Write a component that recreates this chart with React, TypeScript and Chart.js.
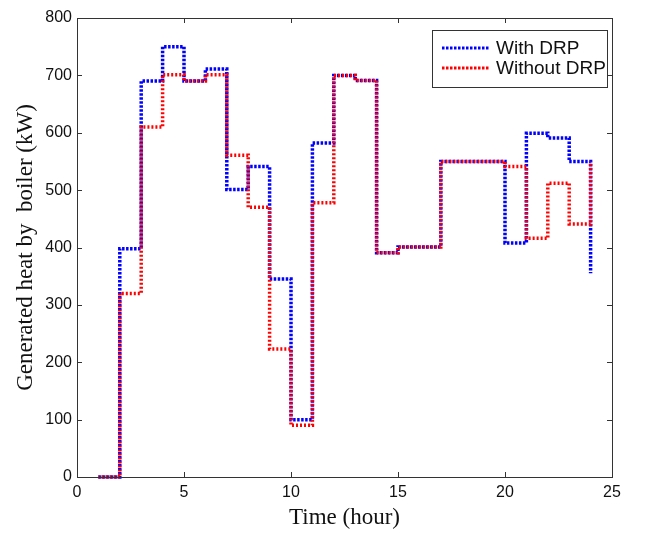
import React, { useEffect, useRef } from "react";
import { Chart, registerables } from "chart.js";

Chart.register(...registerables);

const hours = [1, 2, 3, 4, 5, 6, 7, 8, 9, 10, 11, 12, 13, 14, 15, 16, 17, 18, 19, 20, 21, 22, 23, 24];
const withDRP = [0, 398, 690, 750, 690, 711, 501, 541, 345, 100, 582, 700, 691, 391, 401, 401, 550, 550, 550, 408, 599, 591, 550, 355];
const withoutDRP = [0, 320, 610, 701, 690, 701, 561, 470, 223, 90, 478, 700, 691, 391, 401, 401, 550, 550, 550, 541, 416, 512, 441, 550];
const seriesNames = ["With DRP", "Without DRP"];
const xTitle = "Time (hour)";
const yTitle = "Generated heat by  boiler (kW)";

const BLUE = "#0000ff";
const RED = "#ff0000";
const DASH = [2.5, 1.5];

const framePlugin = {
  id: "frame",
  afterDraw(chart: any) {
    const { ctx, chartArea, scales } = chart;
    const { left, right, top, bottom } = chartArea;
    const xs = scales.x;
    const ys = scales.y;
    ctx.save();
    ctx.strokeStyle = "#333";
    ctx.lineWidth = 1;
    ctx.setLineDash([]);
    ctx.strokeRect(Math.round(left) + 0.5, Math.round(top) + 0.5, Math.round(right - left), Math.round(bottom - top));
    const tl = 5;
    ctx.beginPath();
    xs.ticks.forEach((t: any) => {
      const px = Math.round(xs.getPixelForValue(t.value)) + 0.5;
      ctx.moveTo(px, bottom);
      ctx.lineTo(px, bottom - tl);
      ctx.moveTo(px, top);
      ctx.lineTo(px, top + tl);
    });
    ys.ticks.forEach((t: any) => {
      const py = Math.round(ys.getPixelForValue(t.value)) + 0.5;
      ctx.moveTo(left, py);
      ctx.lineTo(left + tl, py);
      ctx.moveTo(right, py);
      ctx.lineTo(right - tl, py);
    });
    ctx.stroke();

    // legend
    const bx = 432.5, by = 30.5, bw = 175, bh = 57;
    ctx.fillStyle = "#fff";
    ctx.fillRect(bx, by, bw, bh);
    ctx.strokeStyle = "#333";
    ctx.strokeRect(bx, by, bw, bh);
    const colors = [BLUE, RED];
    const rows = [48, 68];
    ctx.font = "19px 'Liberation Sans', Arial, sans-serif";
    ctx.textBaseline = "middle";
    ctx.textAlign = "left";
    seriesNames.forEach((name, i) => {
      ctx.strokeStyle = colors[i];
      ctx.lineWidth = 3;
      ctx.setLineDash(DASH);
      ctx.beginPath();
      ctx.moveTo(442, rows[i]);
      ctx.lineTo(490, rows[i]);
      ctx.stroke();
      ctx.setLineDash([]);
      ctx.fillStyle = "#111";
      ctx.fillText(name, 496, rows[i] + 1);
    });
    ctx.restore();
  },
};

export default function App() {
  const ref = useRef<HTMLCanvasElement>(null);
  useEffect(() => {
    if (!ref.current) return;
    const chart = new Chart(ref.current, {
      type: "line",
      data: {
        datasets: [
          {
            label: seriesNames[1],
            data: hours.map((h, i) => ({ x: h, y: withoutDRP[i] })),
            borderColor: RED,
            borderWidth: 3.5,
            borderDash: [2, 2],
            borderDashOffset: 1,
            stepped: "before",
            pointRadius: 0,
            fill: false,
            clip: 6,
            order: 0,
          },
          {
            label: seriesNames[0],
            data: hours.map((h, i) => ({ x: h, y: withDRP[i] })),
            borderColor: BLUE,
            borderWidth: 3.5,
            borderDash: DASH,
            stepped: "before",
            pointRadius: 0,
            fill: false,
            clip: 6,
            order: 1,
          },
        ],
      },
      options: {
        animation: false,
        responsive: false,
        layout: { padding: { top: 18, right: 34, left: 0, bottom: 0 } },
        plugins: { legend: { display: false }, tooltip: { enabled: false } },
        scales: {
          x: {
            type: "linear",
            min: 0,
            max: 25,
            ticks: {
              stepSize: 5,
              padding: 6,
              color: "#111",
              font: { family: "'Liberation Sans', Arial, sans-serif", size: 16 },
              maxRotation: 0,
            },
            grid: { display: true, drawOnChartArea: false, drawTicks: false },
            border: { display: false },
            title: {
              display: true,
              text: xTitle,
              color: "#111",
              font: { family: "'Liberation Serif', 'Times New Roman', serif", size: 23 },
              padding: { top: 0, bottom: 2 },
            },
            afterFit(scale: any) {
              scale.height = 57;
            },
          },
          y: {
            type: "linear",
            min: 0,
            max: 800,
            ticks: {
              stepSize: 100,
              padding: 5,
              color: "#111",
              font: { family: "'Liberation Sans', Arial, sans-serif", size: 16 },
            },
            grid: { display: true, drawOnChartArea: false, drawTicks: false },
            border: { display: false },
            title: {
              display: true,
              text: yTitle,
              color: "#111",
              font: { family: "'Liberation Serif', 'Times New Roman', serif", size: 23 },
              padding: { top: 12, bottom: 0 },
            },
            afterFit(scale: any) {
              scale.width = 77;
            },
          },
        },
      },
      plugins: [framePlugin],
    });
    return () => chart.destroy();
  }, []);
  return (
    <div style={{ position: "absolute", left: 0, top: 0, width: 646, height: 534, background: "#fff" }}>
      <canvas ref={ref} width={646} height={534} />
    </div>
  );
}
